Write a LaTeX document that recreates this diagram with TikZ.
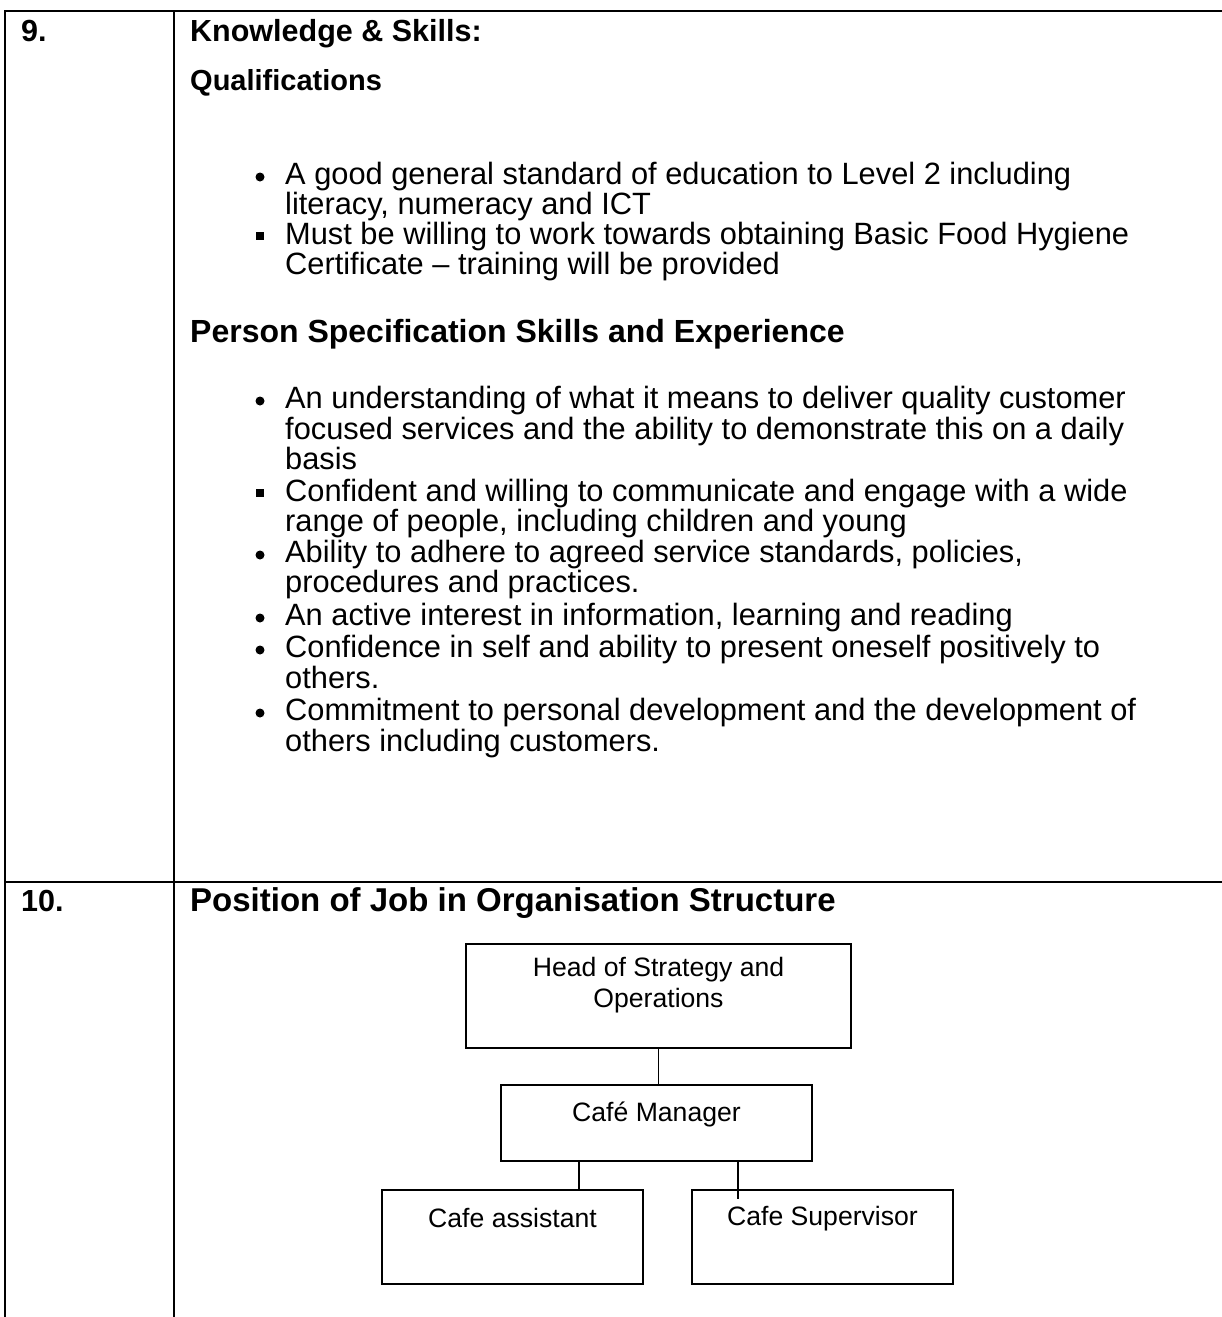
\documentclass[tikz,border=0pt]{standalone}
\usepackage{fontspec}
\setmainfont{Liberation Sans}
\usetikzlibrary{positioning}

\begin{document}
\begin{tikzpicture}[x = 1pt, y = -1pt,
  rule/.style = {line width = 2.8pt},
  title/.style = {anchor = west, inner sep = 0pt, text height = 22pt, text depth = 0pt, font = \bfseries\fontsize{30.5}{30.5}\selectfont},
  bigtitle/.style = {title, font = \bfseries\fontsize{32}{32}\selectfont},
  subtitle/.style = {title, font = \bfseries\fontsize{29}{29}\selectfont},
  line/.style = {anchor = west, inner sep = 0pt, text height = 22pt, text depth = 0pt, font = \fontsize{30.8}{30.8}\selectfont},
  dot/.style = {circle, fill = black, inner sep = 0pt, minimum size = 9pt},
  sqr/.style = {rectangle, fill = black, inner sep = 0pt, minimum size = 8pt},
  orgbox/.style = {draw = black, line width = 2pt, inner sep = 0pt},
  orgtext/.style = {align = center, inner sep = 0pt, font = \fontsize{26.6}{31}\selectfont}]
\useasboundingbox (0,0) rectangle (1222,1317);
% table rules
\draw[rule] (5,1317) -- (5,11) -- (1222,11);
\draw[rule] (174,11) -- (174,1317);
\draw[rule] (5,882) -- (1222,882);

% row 9
\node[title] (num9) at (21,30) {9.};
\node[title] (know) at (190,30) {Knowledge \& Skills:};
\node[subtitle] (qual) at (190,79) {Qualifications};
\node[dot] (b1) at (260,177) {};
\node[line] (q1a) at (285,173) {A good general standard of education to Level 2 including};
\node[line] (q1b) at (285,203) {literacy, numeracy and ICT};
\node[sqr] (b2) at (260,236) {};
\node[line] (q2a) at (285,233) {Must be willing to work towards obtaining Basic Food Hygiene};
\node[line] (q2b) at (285,263) {Certificate \textendash{} training will be provided};
\node[bigtitle] (spec) at (190,331) {Person Specification Skills and Experience};
\node[dot] (b3) at (260,401) {};
\node[line] (s1a) at (285,397) {An understanding of what it means to deliver quality customer};
\node[line] (s1b) at (285,428) {focused services and the ability to demonstrate this on a daily};
\node[line] (s1c) at (285,458) {basis};
\node[sqr] (b4) at (260,493) {};
\node[line] (s2a) at (285,490) {Confident and willing to communicate and engage with a wide};
\node[line] (s2b) at (285,520) {range of people, including children and young};
\node[dot] (b5) at (260,555) {};
\node[line] (s3a) at (285,551) {Ability to adhere to agreed service standards, policies,};
\node[line] (s3b) at (285,581) {procedures and practices.};
\node[dot] (b6) at (260,618) {};
\node[line] (s4a) at (285,614) {An active interest in information, learning and reading};
\node[dot] (b7) at (260,650) {};
\node[line] (s5a) at (285,646) {Confidence in self and ability to present oneself positively to};
\node[line] (s5b) at (285,677) {others.};
\node[dot] (b8) at (260,713) {};
\node[line] (s6a) at (285,709) {Commitment to personal development and the development of};
\node[line] (s6b) at (285,740) {others including customers.};

% row 10
\node[title] (num10) at (21,900) {10.};
\node[bigtitle, font = \bfseries\fontsize{33}{33}\selectfont] (posn) at (190,900) {Position of Job in Organisation Structure};

% organisation chart
\node[orgbox, minimum width = 385pt, minimum height = 104pt] (hos) at (658.5,996) {};
\node[orgbox, minimum width = 311pt, minimum height = 76pt] (mgr) at (656.5,1123) {};
\node[orgbox, minimum width = 261pt, minimum height = 94pt] (asst) at (512.5,1237) {};
\node[orgbox, minimum width = 261pt, minimum height = 94pt] (sup) at (822.5,1237) {};
\node[orgtext, below = 14pt of hos.north] (hostxt) {Head of Strategy and\\Operations};
\node[orgtext, below = 18pt of mgr.north] (mgrtxt) {Café Manager};
\node[orgtext, below = 19pt of asst.north] (assttxt) {Cafe assistant};
\node[orgtext, below = 17pt of sup.north] (suptxt) {Cafe Supervisor};
\draw[line width = 1.5pt] (hos.south) -- (hos.south |- mgr.north);
\draw[line width = 1.5pt] ([xshift = -77.5pt]mgr.south) -- ([xshift = -77.5pt]mgr.south |- asst.north);
\draw[line width = 1.5pt] ([xshift = 81.5pt]mgr.south) -- ++(0,37);
\end{tikzpicture}
\end{document}
